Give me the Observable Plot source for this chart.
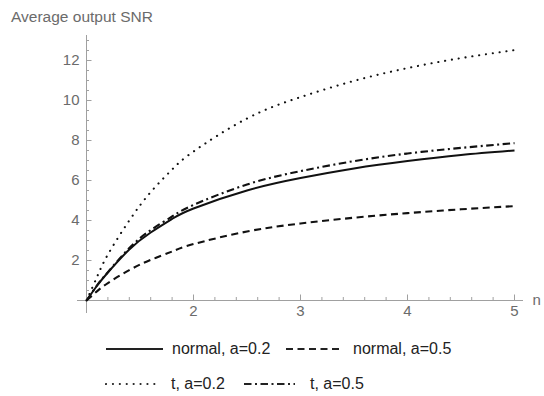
<!DOCTYPE html>
<html><head><meta charset="utf-8">
<script src="https://cdn.jsdelivr.net/npm/d3@7"></script>
<script src="https://cdn.jsdelivr.net/npm/@observablehq/plot@0.6"></script>
<style>
body{margin:0;background:#fff;font-family:"Liberation Sans",Arial,sans-serif;}
#wrap{position:relative;width:544px;height:396px;overflow:hidden;}
#title{position:absolute;left:11px;top:8px;font-size:15.5px;color:#6b6b6b;white-space:nowrap;}
.leg{position:absolute;font-size:16px;color:#222;white-space:nowrap;line-height:18px;}
.sw{position:absolute;}
</style></head><body><div id="wrap"><div id="title">Average output SNR</div></div>
<script>
// n values (x) and the four series
const nValues  = [1, 1.1, 1.2, 1.4, 1.6, 1.8, 2, 2.5, 3, 3.5, 4, 4.5, 5];
const normal02 = [0, 0.75, 1.4, 2.55, 3.4, 4.08, 4.6, 5.5, 6.12, 6.6, 6.97, 7.27, 7.5];
const normal05 = [0, 0.47, 0.87, 1.52, 2.03, 2.45, 2.82, 3.45, 3.85, 4.14, 4.37, 4.56, 4.72];
const t02      = [0, 1.2, 2.3, 4.0, 5.42, 6.55, 7.45, 9.1, 10.17, 10.98, 11.62, 12.12, 12.52];
const t05      = [0, 0.77, 1.42, 2.62, 3.52, 4.2, 4.78, 5.8, 6.47, 6.97, 7.35, 7.63, 7.87];
const seriesNames = ["normal, a=0.2", "normal, a=0.5", "t, a=0.2", "t, a=0.5"];
const seriesValues = [normal02, normal05, t02, t05];
const dashes = [null, "7,4.5", "0.1,6.8", "7.5,3.5,2,3.5"];
const caps = ["butt", "butt", "round", "butt"];
const widths = [2, 2.1, 2.1, 2.1];
const xMajor = [2, 3, 4, 5];
const xMinor = [1.2, 1.4, 1.6, 1.8, 2.2, 2.4, 2.6, 2.8, 3.2, 3.4, 3.6, 3.8, 4.2, 4.4, 4.6, 4.8];
const yMajor = [2, 4, 6, 8, 10, 12];
const yMinor = [0.5, 1, 1.5, 2.5, 3, 3.5, 4.5, 5, 5.5, 6.5, 7, 7.5, 8.5, 9, 9.5, 10.5, 11, 11.5, 12.5, 13];

const rows = [];
seriesNames.forEach((s, k) => nValues.forEach((n, i) => rows.push({series: s, n, v: seriesValues[k][i]})));

const axisColor = "#a0a0a0";
const plot = Plot.plot({
  width: 544, height: 330,
  marginLeft: 86, marginRight: 21, marginTop: 35, marginBottom: 30,
  x: {domain: [1, 5.084]},
  y: {domain: [0, 13.25]},
  style: {fontFamily: '"Liberation Sans", Arial, sans-serif', fontSize: "15px", color: "#6b6b6b", background: "transparent", overflow: "visible"},
  marks: [
    Plot.axisX({ticks: xMajor, tickSize: 0, tickPadding: 5, tickFormat: d => String(d), label: null}),
    Plot.axisY({ticks: yMajor, tickSize: 0, tickPadding: 7, tickFormat: d => String(d), label: null}),
    Plot.ruleY([0], {x1: 0.916, x2: 5.084, stroke: axisColor}),
    Plot.ruleX([1], {y1: -0.65, y2: 13.25, stroke: axisColor}),
    Plot.ruleX(xMajor, {y1: 0, y2: 0, insetTop: -5.5, stroke: axisColor}),
    Plot.ruleX(xMinor, {y1: 0, y2: 0, insetTop: -3, stroke: axisColor}),
    Plot.ruleY(yMajor, {x1: 1, x2: 1, insetRight: -5.5, stroke: axisColor}),
    Plot.ruleY(yMinor, {x1: 1, x2: 1, insetRight: -3, stroke: axisColor}),
    ...seriesNames.map((s, k) => Plot.line(rows.filter(d => d.series === s), {
      x: "n", y: "v", curve: "natural", stroke: "#111",
      strokeWidth: widths[k], strokeDasharray: dashes[k], strokeLinecap: caps[k]
    })),
    Plot.text(["n"], {x: 5.084, y: 0, dx: 9, textAnchor: "start", fill: "#6b6b6b", fontSize: 15})
  ]
});
plot.style.position = "absolute";
plot.style.left = "0px";
plot.style.top = "0px";
const wrap = document.getElementById("wrap");
wrap.insertBefore(plot, wrap.firstChild);

// legend below the chart
const legendPos = [
  {sx: 106, sw: 57, tx: 172, cy: 349},
  {sx: 286, sw: 54, tx: 353, cy: 349},
  {sx: 106, sw: 52, tx: 171, cy: 384},
  {sx: 244, sw: 51, tx: 310, cy: 384}
];
seriesNames.forEach((s, k) => {
  const p = legendPos[k];
  const svg = d3.select(wrap).append("svg").attr("class", "sw")
    .attr("width", p.sw + 2).attr("height", 8)
    .style("left", (p.sx - 1) + "px").style("top", (p.cy - 4) + "px");
  svg.append("line").attr("x1", 1).attr("x2", p.sw + 1).attr("y1", 4).attr("y2", 4)
    .attr("stroke", "#222").attr("stroke-width", widths[k])
    .attr("stroke-linecap", caps[k])
    .attr("stroke-dasharray", dashes[k]);
  d3.select(wrap).append("div").attr("class", "leg")
    .style("left", p.tx + "px").style("top", (p.cy - 9) + "px").text(s);
});
</script></body></html>
